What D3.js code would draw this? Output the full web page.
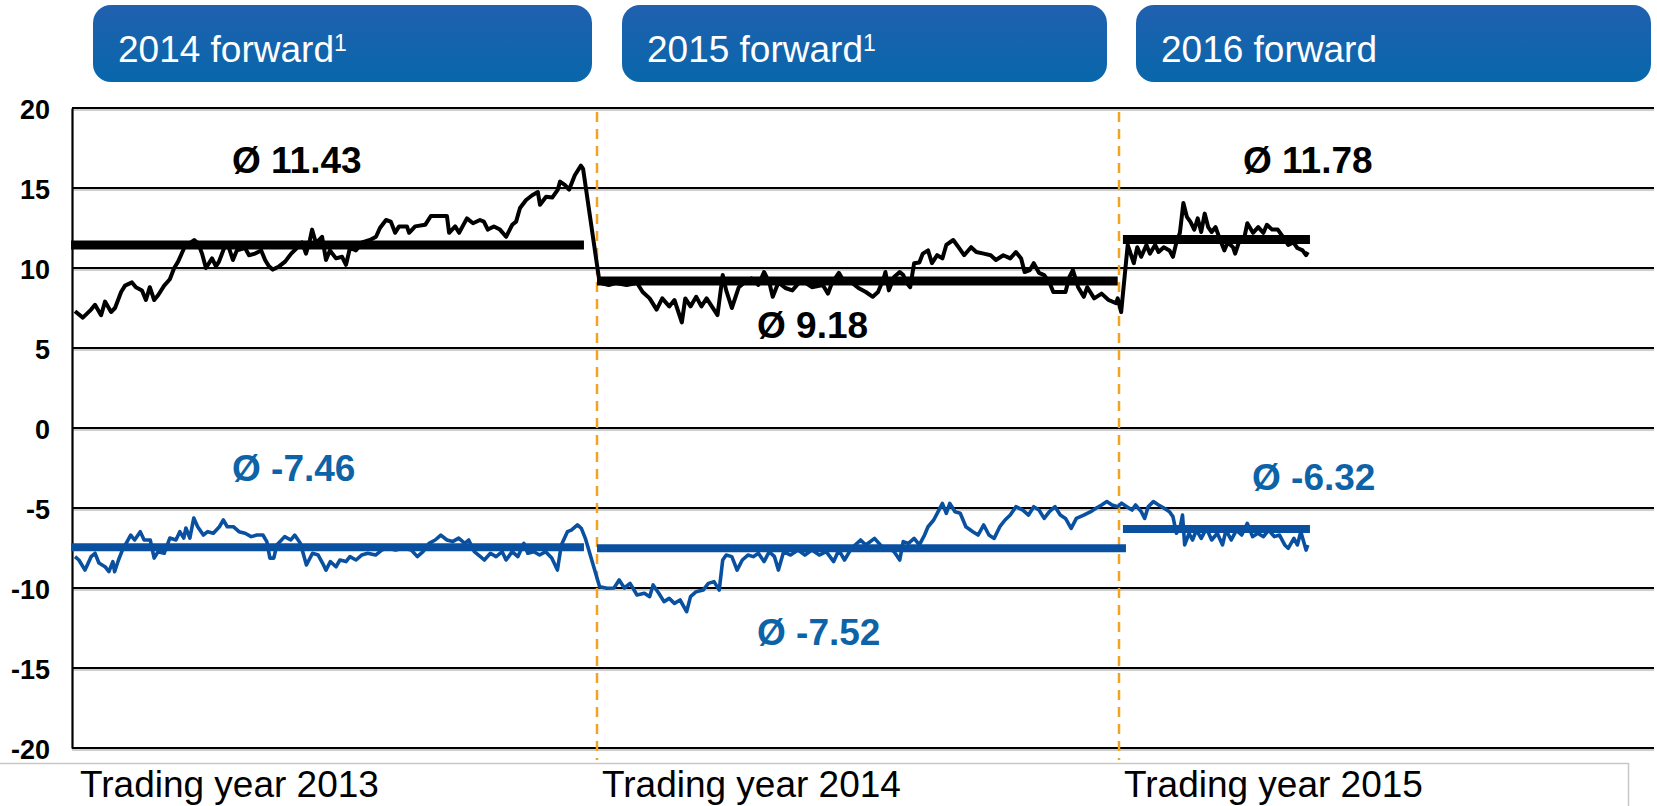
<!DOCTYPE html>
<html lang="en">
    <head>
        <meta charset="utf-8">
        <title>Forward spreads</title>
        <script type="text/javascript" src="https://d3js.org/d3.v7.min.js"></script>
        <style type="text/css">
            body { margin: 0; background: #fff; }
            text { font-family: "Liberation Sans", Arial, sans-serif; }
        </style>
    </head>
    <body>
        <script type="text/javascript">

        // Data (x = months since start of trading year 2013)
        const yTicks = [20, 15, 10, 5, 0, -5, -10, -15, -20];
        const yearStarts = [0, 12, 24];
        const categories = ["Trading year 2013", "Trading year 2014", "Trading year 2015"];
        const headerLabels = ["2014 forward", "2015 forward", "2016 forward"];
        const headerNotes = ["1", "1", ""];

        // averages: [start, end, value]
        const avgBlack = [[-0.09, 11.7, 11.43], [12.0, 23.97, 9.18], [24.09, 28.39, 11.78]];
        const avgBlue = [[-0.09, 11.7, -7.46], [12.0, 24.16, -7.52], [24.09, 28.39, -6.32]];

        const blackSeries = [
            [0.0,7.3],[0.18,6.9],[0.37,7.4],[0.46,7.7],[0.6,7.05],[0.69,7.9],[0.83,7.25],[0.92,7.5],[1.06,8.5],[1.15,8.9],
            [1.31,9.1],[1.4,8.8],[1.54,8.6],[1.63,8.0],[1.72,8.8],[1.82,8.0],[1.91,8.3],[2.05,8.9],[2.18,9.3],[2.28,10.0],
            [2.37,10.4],[2.51,11.25],[2.64,11.55],[2.74,11.75],[2.83,11.55],[2.92,10.9],[3.01,10.0],[3.15,10.6],[3.24,10.1],[3.31,10.4],
            [3.45,11.4],[3.54,11.25],[3.63,10.5],[3.72,11.1],[3.91,11.25],[4.0,10.8],[4.14,10.9],[4.28,11.1],[4.37,10.5],[4.46,10.1],
            [4.55,9.9],[4.69,10.1],[4.83,10.4],[4.97,10.9],[5.1,11.25],[5.22,11.6],[5.31,10.9],[5.4,11.75],[5.45,12.4],[5.54,11.55],
            [5.68,11.95],[5.77,10.5],[5.86,11.1],[6.0,10.6],[6.14,10.7],[6.23,10.2],[6.32,11.25],[6.46,11.1],[6.6,11.6],[6.78,11.75],
            [6.92,11.95],[7.01,12.5],[7.15,13.0],[7.26,12.9],[7.36,12.2],[7.45,12.6],[7.63,12.6],[7.68,12.2],[7.82,12.6],[8.05,12.7],
            [8.18,13.25],[8.55,13.25],[8.6,12.2],[8.74,12.6],[8.83,12.2],[9.01,13.1],[9.15,12.8],[9.31,13.0],[9.4,12.9],[9.49,12.4],
            [9.63,12.6],[9.77,12.4],[9.91,11.95],[10.05,12.7],[10.14,12.9],[10.23,13.75],[10.37,14.25],[10.51,14.55],[10.64,14.75],[10.69,13.95],
            [10.83,14.45],[10.97,14.4],[11.1,14.9],[11.15,15.4],[11.26,15.2],[11.36,14.9],[11.49,15.8],[11.63,16.4],[11.68,16.2],
            [12.06,9.08],[12.27,8.94],[12.43,9.06],[12.68,8.94],[12.92,9.06],[13.05,8.5],[13.21,8.1],[13.37,7.4],[13.5,8.1],[13.66,7.6],
            [13.78,8.0],[13.95,6.6],[14.03,8.1],[14.15,7.6],[14.28,8.2],[14.4,7.6],[14.52,8.1],[14.77,7.06],[14.89,9.56],[14.97,8.6],
            [15.1,7.5],[15.26,8.8],[15.39,9.1],[15.55,9.35],[15.71,8.94],[15.84,9.75],[15.96,9.1],[16.04,8.2],[16.17,9.1],[16.33,8.75],
            [16.49,8.6],[16.7,9.25],[16.94,8.8],[17.19,8.94],[17.31,8.4],[17.4,9.06],[17.56,9.7],[17.69,9.1],[17.85,9.1],[18.01,8.75],
            [18.18,8.5],[18.34,8.2],[18.46,8.5],[18.59,9.35],[18.63,9.75],[18.71,8.6],[18.83,9.44],[18.96,9.75],[19.04,9.56],[19.12,9.06],
            [19.2,8.8],[19.29,10.3],[19.41,10.35],[19.49,10.9],[19.61,11.1],[19.7,10.3],[19.82,10.8],[19.94,10.6],[20.03,11.44],[20.19,11.75],
            [20.31,11.3],[20.44,10.8],[20.6,11.3],[20.72,11.0],[20.89,10.9],[21.05,10.8],[21.17,10.5],[21.34,10.8],[21.5,10.6],[21.63,11.0],
            [21.75,10.6],[21.83,9.75],[21.95,9.87],[22.04,10.3],[22.16,9.7],[22.28,9.56],[22.4,9.1],[22.49,8.5],[22.77,8.5],[22.86,9.44],
            [22.94,9.87],[23.06,8.8],[23.19,8.2],[23.27,8.8],[23.43,8.1],[23.6,8.4],[23.76,8.0],[23.93,7.8],[23.97,8.1],[24.05,7.25],
            [24.2,11.44],[24.34,10.3],[24.42,11.3],[24.51,10.7],[24.63,11.44],[24.71,10.9],[24.83,11.44],[24.91,11.0],[25.03,11.3],[25.16,11.1],
            [25.24,10.7],[25.32,11.6],[25.4,12.2],[25.48,14.06],[25.56,13.2],[25.64,12.9],[25.73,12.4],[25.81,13.1],[25.89,12.25],[25.97,13.4],
            [26.05,12.56],[26.13,12.25],[26.22,12.56],[26.3,11.94],[26.42,11.1],[26.5,11.6],[26.62,11.3],[26.67,10.9],[26.75,11.56],[26.87,11.75],
            [26.95,12.8],[27.08,12.2],[27.2,12.56],[27.32,12.2],[27.4,12.7],[27.52,12.4],[27.65,12.4],[27.77,11.94],[27.89,11.44],[28.01,11.6],
            [28.1,11.25],[28.22,11.1],[28.3,10.8],[28.34,11.0]
        ];

        const blueSeries = [
            [0.0,-8.04],[0.09,-8.25],[0.23,-8.88],[0.37,-8.04],[0.46,-7.83],[0.55,-8.44],[0.69,-8.67],[0.78,-8.98],[0.87,-8.35],[0.91,-8.98],
            [1.0,-8.25],[1.09,-7.63],[1.28,-6.69],[1.37,-7.0],[1.5,-6.48],[1.59,-7.0],[1.73,-7.0],[1.82,-8.13],[1.91,-7.73],[2.05,-7.83],
            [2.18,-6.88],[2.32,-7.0],[2.41,-6.48],[2.5,-6.88],[2.55,-6.25],[2.64,-6.88],[2.73,-5.63],[2.82,-6.17],[2.95,-6.69],[3.05,-6.48],
            [3.18,-6.58],[3.32,-6.17],[3.41,-5.75],[3.5,-6.17],[3.64,-6.17],[3.77,-6.48],[3.91,-6.58],[4.05,-6.79],[4.18,-6.69],[4.32,-6.69],
            [4.41,-7.1],[4.48,-8.13],[4.57,-8.13],[4.64,-7.31],[4.82,-6.79],[4.96,-7.0],[5.05,-6.69],[5.18,-7.21],[5.32,-8.56],[5.46,-7.83],
            [5.59,-7.94],[5.69,-8.44],[5.77,-8.88],[5.87,-8.35],[6.0,-8.67],[6.09,-8.25],[6.23,-8.35],[6.32,-8.04],[6.46,-8.25],[6.59,-7.94],
            [6.73,-7.83],[6.91,-7.94],[7.05,-7.63],[7.18,-7.52],[7.37,-7.63],[7.55,-7.52],[7.73,-7.63],[7.87,-8.04],[8.0,-7.73],[8.14,-7.21],
            [8.28,-7.0],[8.41,-6.69],[8.55,-7.0],[8.68,-7.1],[8.82,-6.88],[8.96,-7.21],[9.05,-7.0],[9.18,-7.73],[9.32,-8.04],[9.41,-8.25],
            [9.55,-7.83],[9.68,-8.04],[9.82,-7.73],[9.91,-8.25],[10.05,-7.73],[10.18,-8.04],[10.32,-7.21],[10.41,-7.83],[10.55,-7.73],[10.68,-7.94],
            [10.82,-7.73],[10.96,-8.13],[11.09,-8.88],[11.18,-7.31],[11.32,-6.48],[11.41,-6.38],[11.55,-6.06],[11.64,-6.27],[11.73,-6.88],
            [12.06,-9.92],[12.23,-10.02],[12.39,-10.0],[12.51,-9.5],[12.63,-10.0],[12.76,-9.71],[12.92,-10.44],[13.09,-10.33],[13.21,-10.54],[13.29,-9.81],
            [13.42,-10.33],[13.54,-10.85],[13.66,-10.65],[13.78,-10.96],[13.91,-10.75],[14.06,-11.48],[14.15,-10.54],[14.28,-10.23],[14.44,-10.13],[14.56,-9.71],
            [14.69,-9.6],[14.81,-10.13],[14.89,-8.25],[14.97,-7.94],[15.1,-8.04],[15.22,-8.88],[15.34,-8.25],[15.47,-7.94],[15.59,-8.04],[15.71,-7.83],
            [15.84,-8.35],[15.96,-7.73],[16.08,-8.04],[16.17,-8.88],[16.29,-7.73],[16.45,-7.94],[16.62,-7.63],[16.78,-7.94],[16.94,-7.63],[17.11,-7.94],
            [17.27,-7.73],[17.44,-8.35],[17.56,-7.63],[17.69,-8.25],[17.85,-7.52],[18.06,-7.0],[18.18,-7.31],[18.38,-6.9],[18.55,-7.42],[18.71,-7.52],
            [18.83,-7.73],[18.96,-8.25],[19.04,-7.1],[19.16,-7.21],[19.29,-6.9],[19.41,-7.31],[19.53,-6.69],[19.61,-6.17],[19.74,-5.75],[19.86,-5.13],
            [19.94,-4.71],[20.03,-5.33],[20.11,-4.71],[20.23,-5.23],[20.35,-5.33],[20.48,-6.17],[20.64,-6.48],[20.76,-6.69],[20.89,-6.06],[21.01,-6.69],
            [21.13,-6.9],[21.26,-6.17],[21.38,-5.75],[21.5,-5.44],[21.63,-4.92],[21.79,-5.13],[21.92,-5.44],[22.04,-4.92],[22.16,-5.13],[22.28,-5.65],
            [22.4,-5.23],[22.53,-4.92],[22.65,-5.44],[22.77,-5.65],[22.9,-6.27],[23.02,-5.65],[23.19,-5.44],[23.35,-5.23],[23.47,-5.02],[23.6,-4.81],
            [23.72,-4.6],[23.84,-4.81],[23.97,-4.92],
            [24.06,-4.7],[24.18,-4.92],[24.3,-5.13],[24.38,-4.81],[24.51,-5.23],[24.59,-5.65],[24.67,-4.92],[24.79,-4.6],[24.91,-4.81],[25.03,-5.0],
            [25.16,-5.23],[25.24,-5.54],[25.32,-6.58],[25.4,-6.27],[25.46,-5.44],[25.51,-7.31],[25.61,-6.58],[25.69,-7.0],[25.78,-6.38],[25.89,-6.9],
            [26.01,-6.27],[26.13,-7.0],[26.26,-6.58],[26.38,-7.31],[26.46,-6.38],[26.58,-7.0],[26.7,-6.38],[26.82,-6.69],[26.95,-5.96],[27.07,-6.79],
            [27.19,-6.58],[27.32,-6.79],[27.44,-6.38],[27.57,-6.79],[27.69,-6.69],[27.81,-7.31],[27.89,-7.52],[28.02,-6.9],[28.1,-7.31],[28.18,-6.48],
            [28.3,-7.63],[28.34,-7.31]
        ];

        // Layout
        const width = 1657;
        const height = 806;
        const plotLeft = 72;
        const plotRight = 1654;
        const plotTop = 108;
        const plotBottom = 748;

        const black = "#000000";
        const blueLine = "#0a50a1";
        const blueText = "#0d63a8";
        const orange = "#f2a31f";

        //Scales
        const xScale = d3.scaleLinear()
                        .domain([0, 36])
                        .range([75, 1641]);

        const yScale = d3.scaleLinear()
                        .domain([-20, 20])
                        .range([plotBottom, plotTop]);

        //SVG
        const svg = d3.select("body")
                    .append("svg")
                    .attr("width", width)
                    .attr("height", height);

        const defs = svg.append("defs");
        const grad = defs.append("linearGradient")
                    .attr("id", "hdr")
                    .attr("x1", 0).attr("y1", 0).attr("x2", 0).attr("y2", 1);
        grad.append("stop").attr("offset", "0%").attr("stop-color", "#2060af");
        grad.append("stop").attr("offset", "100%").attr("stop-color", "#0867ab");

        //Header boxes
        const boxX = [[93, 592], [622, 1107], [1136, 1651]];
        const hdr = svg.selectAll("g.hdr")
            .data(headerLabels)
            .enter()
            .append("g")
            .attr("class", "hdr");

        hdr.append("rect")
            .attr("x", (d, i) => boxX[i][0])
            .attr("y", 5)
            .attr("width", (d, i) => boxX[i][1] - boxX[i][0])
            .attr("height", 77)
            .attr("rx", 18)
            .attr("fill", "url(#hdr)");

        const hdrText = hdr.append("text")
            .attr("x", (d, i) => boxX[i][0] + 25)
            .attr("y", 62)
            .attr("fill", "#fff")
            .attr("font-size", 37);
        hdrText.append("tspan").text(d => d);
        hdrText.append("tspan")
            .attr("font-size", 23)
            .attr("dy", -11)
            .text((d, i) => headerNotes[i]);

        //Gridlines
        svg.selectAll("line.grid-shadow")
            .data(yTicks)
            .enter()
            .append("line")
            .attr("class", "grid-shadow")
            .attr("x1", plotLeft)
            .attr("x2", plotRight)
            .attr("y1", d => yScale(d) + 2)
            .attr("y2", d => yScale(d) + 2)
            .attr("stroke", "#a0a0a0")
            .attr("stroke-width", 1.2);

        svg.selectAll("line.grid")
            .data(yTicks)
            .enter()
            .append("line")
            .attr("class", "grid")
            .attr("x1", plotLeft)
            .attr("x2", plotRight)
            .attr("y1", d => yScale(d))
            .attr("y2", d => yScale(d))
            .attr("stroke", "#000")
            .attr("stroke-width", 2.2);

        //Left axis
        const leftAxis = d3.axisLeft()
                            .scale(yScale)
                            .tickValues(yTicks)
                            .tickSize(0)
                            .tickPadding(22)
                            .tickFormat(d => String(d));

        const yAxis = svg.append("g")
            .attr("transform", "translate(" + plotLeft + ",0)")
            .call(leftAxis);
        yAxis.select(".domain")
            .attr("stroke", "#000")
            .attr("stroke-width", 2.2);
        yAxis.selectAll("text")
            .attr("font-family", "'Liberation Sans', Arial, sans-serif")
            .attr("font-size", 27)
            .attr("font-weight", "bold")
            .attr("fill", "#000")
            .attr("dy", "0.4em");

        //Year separators
        svg.selectAll("line.sep")
            .data(yearStarts.slice(1))
            .enter()
            .append("line")
            .attr("class", "sep")
            .attr("x1", d => xScale(d))
            .attr("x2", d => xScale(d))
            .attr("y1", plotTop + 4)
            .attr("y2", 760)
            .attr("stroke", orange)
            .attr("stroke-width", 2.5)
            .attr("stroke-dasharray", "10,7");

        //Average bars
        svg.selectAll("line.avg-black")
            .data(avgBlack)
            .enter()
            .append("line")
            .attr("class", "avg-black")
            .attr("x1", d => xScale(d[0]))
            .attr("x2", d => xScale(d[1]))
            .attr("y1", d => yScale(d[2]))
            .attr("y2", d => yScale(d[2]))
            .attr("stroke", black)
            .attr("stroke-width", 9);

        svg.selectAll("line.avg-blue")
            .data(avgBlue)
            .enter()
            .append("line")
            .attr("class", "avg-blue")
            .attr("x1", d => xScale(d[0]))
            .attr("x2", d => xScale(d[1]))
            .attr("y1", d => yScale(d[2]))
            .attr("y2", d => yScale(d[2]))
            .attr("stroke", blueLine)
            .attr("stroke-width", 8);

        //Series
        const line = d3.line()
            .x(d => xScale(d[0]))
            .y(d => yScale(d[1]));

        svg.append("path")
            .datum(blackSeries)
            .attr("d", line)
            .attr("fill", "none")
            .attr("stroke", black)
            .attr("stroke-width", 4)
            .attr("stroke-linejoin", "round");

        svg.append("path")
            .datum(blueSeries)
            .attr("d", line)
            .attr("fill", "none")
            .attr("stroke", blueLine)
            .attr("stroke-width", 3.6)
            .attr("stroke-linejoin", "round");

        //Average labels
        const blackLabelPos = [[232, 173], [757, 338], [1243, 173]];
        const blueLabelPos = [[232, 481], [757, 645], [1252, 490]];

        svg.selectAll("text.lbl-black")
            .data(avgBlack)
            .enter()
            .append("text")
            .attr("class", "lbl-black")
            .attr("x", (d, i) => blackLabelPos[i][0])
            .attr("y", (d, i) => blackLabelPos[i][1])
            .attr("font-size", 37)
            .attr("font-weight", "bold")
            .attr("fill", black)
            .text(d => "Ø " + d[2].toFixed(2));

        svg.selectAll("text.lbl-blue")
            .data(avgBlue)
            .enter()
            .append("text")
            .attr("class", "lbl-blue")
            .attr("x", (d, i) => blueLabelPos[i][0])
            .attr("y", (d, i) => blueLabelPos[i][1])
            .attr("font-size", 37)
            .attr("font-weight", "bold")
            .attr("fill", blueText)
            .text(d => "Ø " + d[2].toFixed(2));

        //Category box and labels
        svg.append("path")
            .attr("d", "M0,763.5 H1628.5 V806")
            .attr("fill", "none")
            .attr("stroke", "#c8c8c8")
            .attr("stroke-width", 1.5);

        svg.selectAll("text.cat")
            .data(categories)
            .enter()
            .append("text")
            .attr("class", "cat")
            .attr("x", (d, i) => xScale(yearStarts[i]) + 5)
            .attr("y", 797)
            .attr("font-size", 37)
            .attr("fill", "#000")
            .text(d => d);

        </script>
    </body>
</html>
